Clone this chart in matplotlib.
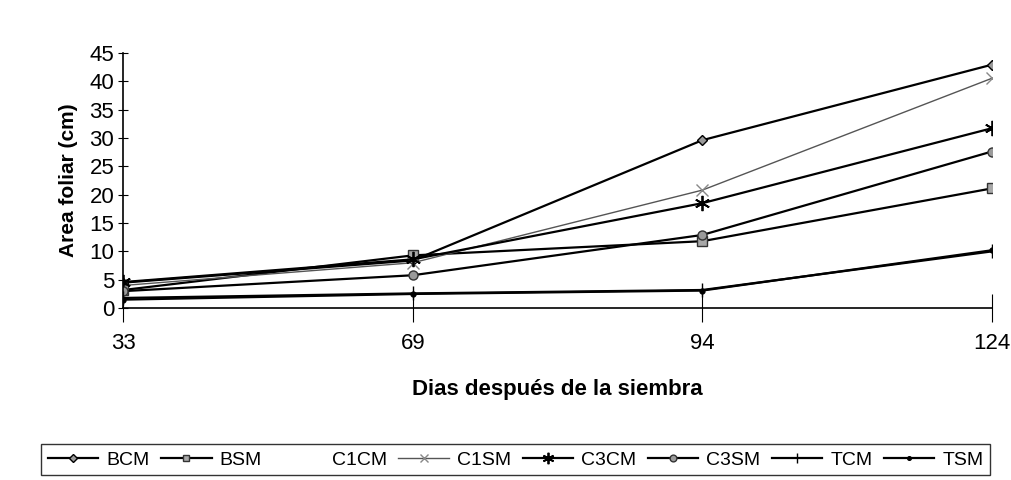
import numpy as np
import matplotlib
matplotlib.use('Agg')
import matplotlib.pyplot as plt

plt.rcParams['font.family'] = ['Liberation Sans', 'DejaVu Sans']

dias = ['33', '69', '94', '124']
bcm = [4.5, 8.4, 29.6, 42.9]
bsm = [3.2, 9.3, 11.8, 21.1]
c1sm = [4.0, 8.0, 20.8, 40.5]
c3cm = [4.6, 8.6, 18.5, 31.7]
c3sm = [3.0, 5.8, 12.9, 27.6]
tcm = [1.8, 2.6, 3.2, 10.0]
tsm = [1.5, 2.5, 3.1, 10.2]

def main():
    fig = plt.figure(figsize=(10.11, 4.8), dpi=100)
    ax = fig.add_axes([0.122, 0.358, 0.859, 0.532])
    x = np.arange(len(dias))

    ax.plot(x, bcm, color='black', lw=1.6, marker='D', ms=5.5, mfc='#9a9a9a', mec='black', label='BCM')
    ax.plot(x, bsm, color='black', lw=1.6, marker='s', ms=6.5, mfc='#a8a8a8', mec='#333333', label='BSM')
    ax.plot([], [], ls='none', label='C1CM')
    ax.plot(x, c1sm, color='#555555', lw=1.0, marker='x', ms=8, mec='#888888', label='C1SM')
    ax.plot(x, c3cm, color='black', lw=1.6, marker=(6, 2, 0), ms=11, mec='black', mew=1.3, label='C3CM')
    ax.plot(x, c3sm, color='black', lw=1.6, marker='o', ms=6.5, mfc='#9a9a9a', mec='#333333', label='C3SM')
    ax.plot(x, tcm, color='black', lw=1.6, marker='|', ms=10, mec='black', label='TCM')
    ax.plot(x, tsm, color='black', lw=1.6, marker='o', ms=3.5, mfc='black', mec='black', label='TSM')

    ax.set_xlim(0, 3)
    ax.set_ylim(0, 45)
    ax.set_xticks(x)
    ax.set_xticklabels(dias)
    ax.set_yticks(np.arange(0, 50, 5))
    ax.tick_params(axis='both', labelsize=16)
    ax.tick_params(axis='y', direction='inout', length=7, width=0.8, pad=3)
    ax.tick_params(axis='x', direction='inout', length=20, width=0.8, pad=8)
    ax.spines['top'].set_visible(False)
    ax.spines['right'].set_visible(False)
    ax.spines['left'].set_linewidth(1.2)
    ax.spines['bottom'].set_linewidth(1.2)

    ax.set_ylabel('Area foliar (cm)', fontsize=15, fontweight='bold', labelpad=8)
    ax.set_xlabel('Dias después de la siembra', fontsize=16, fontweight='bold', labelpad=18)

    leg = fig.legend(loc='center', bbox_to_anchor=(0.51, 0.042), ncol=8, fontsize=14,
                     frameon=True, fancybox=False, edgecolor='black', handlelength=2.6,
                     handletextpad=0.4, columnspacing=0.6, borderpad=0.35, markerscale=0.75)
    leg.get_frame().set_linewidth(1.0)

    fig.savefig('out.png', dpi=100)

if __name__ == "__main__":
    main()
